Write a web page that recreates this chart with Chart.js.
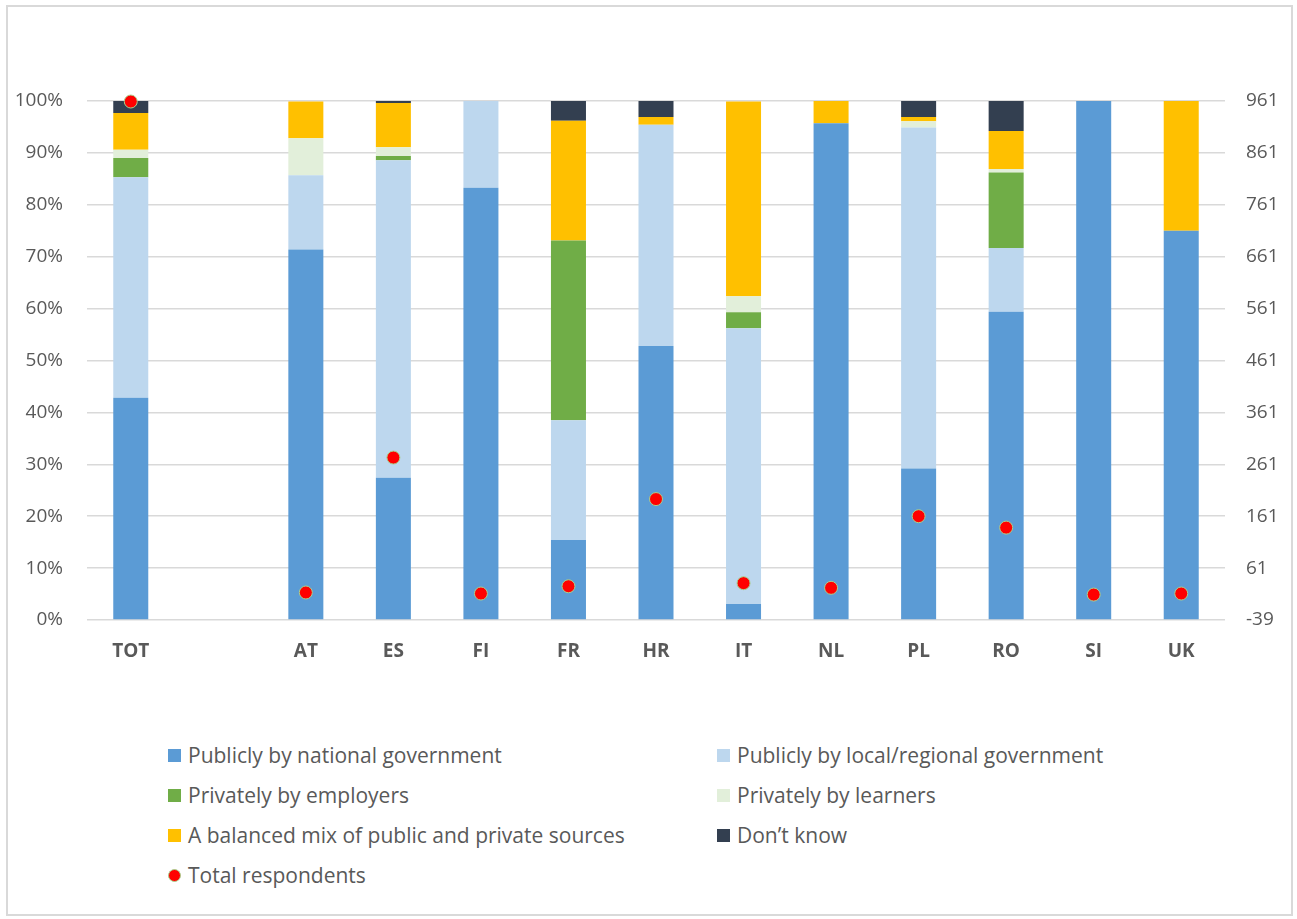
<!DOCTYPE html>
<html lang="en">
<head>
  <meta charset="UTF-8">
  <title>Funding of training by country</title>
  <style>
    body {
      margin: 0;
      background: #fff;
      font-family: "Open Sans", Arial, sans-serif;
    }
    #wrap {
      position: relative;
      width: 1297px;
      height: 919px;
    }
    #frame {
      position: absolute;
      left: 6px;
      top: 5px;
      width: 1283px;
      height: 907px;
      border: 2px solid #d9d9d9;
    }
    #chart {
      position: absolute;
      left: 0;
      top: 0;
    }
    #legend {
      position: absolute;
      left: 168px;
      top: 735px;
      display: grid;
      grid-template-columns: 549px 500px;
      grid-auto-rows: 40px;
      color: #595959;
      font-size: 21px;
    }
    .item {
      display: flex;
      align-items: center;
    }
    .box {
      width: 13px;
      height: 13px;
      margin-right: 7px;
      flex: none;
    }
    .dot {
      border-radius: 50%;
      box-sizing: border-box;
      border: 1px solid #a9d18e;
    }
  </style>
</head>
<body>
  <div id="wrap">
    <div id="frame"></div>
    <canvas id="chart" width="1297" height="700"></canvas>
    <div id="legend"></div>
  </div>

  <script src="https://cdn.jsdelivr.net/npm/chart.js"></script>
  <script>
// categories (empty slot between TOT and the countries)
const categories = ['TOT', '', 'AT', 'ES', 'FI', 'FR', 'HR', 'IT', 'NL', 'PL', 'RO', 'SI', 'UK'];

// shares in %
const national  = [42.8, null, 71.4, 27.4, 83.3, 15.4, 52.8,  3.1, 95.7, 29.2, 59.4, 100, 75];
const local     = [42.5, null, 14.3, 61.2, 16.7, 23.1, 42.6, 53.1,  0,   65.7, 12.3,   0,  0];
const employers = [ 3.7, null,  0,    0.8,  0,   34.6,  0,    3.1,  0,    0,   14.5,   0,  0];
const learners  = [ 1.6, null,  7.1,  1.7,  0,    0,    0,    3.1,  0,    1.2,  0.7,   0,  0];
const mix       = [ 7.1, null,  7.1,  8.5,  0,   23.1,  1.5, 37.5,  4.3,  0.8,  7.3,   0, 25];
const dontKnow  = [ 2.3, null,  0,    0.4,  0,    3.8,  3.1,  0,    0,    3.1,  5.8,   0,  0];

// number of respondents (right axis)
const respondents = [960, null, 14, 274, 12, 26, 194, 32, 23, 161, 139, 10, 12];

const leftTicks  = [0, 10, 20, 30, 40, 50, 60, 70, 80, 90, 100];
const rightTicks = [-39, 61, 161, 261, 361, 461, 561, 661, 761, 861, 961];

const textColor = '#595959';
const gridColor = '#d9d9d9';

function bar(label, data, color) {
  return {
    type: 'bar',
    label: label,
    data: data,
    backgroundColor: color,
    borderWidth: 0,
    yAxisID: 'y',
    order: 1,
    barPercentage: 0.4,
    categoryPercentage: 1
  };
}

const datasets = [
  bar('Publicly by national government', national, '#5b9bd5'),
  bar('Publicly by local/regional government', local, '#bdd7ee'),
  bar('Privately by employers', employers, '#70ad47'),
  bar('Privately by learners', learners, '#e2efda'),
  bar('A balanced mix of public and private sources', mix, '#ffc000'),
  bar('Don\u2019t know', dontKnow, '#333f50'),
  {
    type: 'line',
    label: 'Total respondents',
    data: respondents,
    yAxisID: 'y2',
    showLine: false,
    pointRadius: 6.5,
    pointBackgroundColor: '#ff0000',
    pointBorderColor: '#a9d18e',
    pointBorderWidth: 1,
    clip: false,
    order: 0
  }
];

const chart = new Chart(document.getElementById('chart'), {
  data: { labels: categories, datasets: datasets },
  options: {
    responsive: false,
    animation: false,
    layout: { padding: { top: 101, left: 0, right: 0, bottom: 0 } },
    plugins: {
      legend: { display: false },
      tooltip: { enabled: false }
    },
    scales: {
      x: {
        stacked: true,
        grid: { display: false, drawTicks: false },
        border: { display: false },
        ticks: {
          color: textColor,
          padding: 20,
          font: { family: 'Open Sans', size: 19, weight: 'bold' },
          maxRotation: 0,
          autoSkip: false
        },
        afterFit: s => { s.height = 80; }
      },
      y: {
        stacked: true,
        position: 'left',
        min: 0,
        max: 100,
        afterBuildTicks: s => { s.ticks = leftTicks.map(v => ({ value: v })); },
        grid: { color: gridColor, lineWidth: 1.5, drawTicks: false },
        border: { display: false },
        ticks: {
          color: textColor,
          padding: 24,
          font: { family: 'Open Sans', size: 19 },
          callback: v => v + '%'
        },
        afterFit: s => { s.width = 87; }
      },
      y2: {
        position: 'right',
        min: -39,
        max: 961,
        afterBuildTicks: s => { s.ticks = rightTicks.map(v => ({ value: v })); },
        grid: { display: false, drawTicks: false },
        border: { display: false },
        ticks: {
          color: textColor,
          padding: 21,
          crossAlign: 'near',
          font: { family: 'Open Sans', size: 19 }
        },
        afterFit: s => { s.width = 72; }
      }
    }
  }
});

// html legend in two columns, built from the chart datasets
const legend = document.getElementById('legend');
chart.data.datasets.forEach(ds => {
  const item = document.createElement('div');
  item.className = 'item';
  const box = document.createElement('span');
  if (ds.type === 'line') {
    box.className = 'box dot';
    box.style.background = ds.pointBackgroundColor;
  } else {
    box.className = 'box';
    box.style.background = ds.backgroundColor;
  }
  const txt = document.createElement('span');
  txt.textContent = ds.label;
  item.appendChild(box);
  item.appendChild(txt);
  legend.appendChild(item);
});
  </script>
</body>
</html>
